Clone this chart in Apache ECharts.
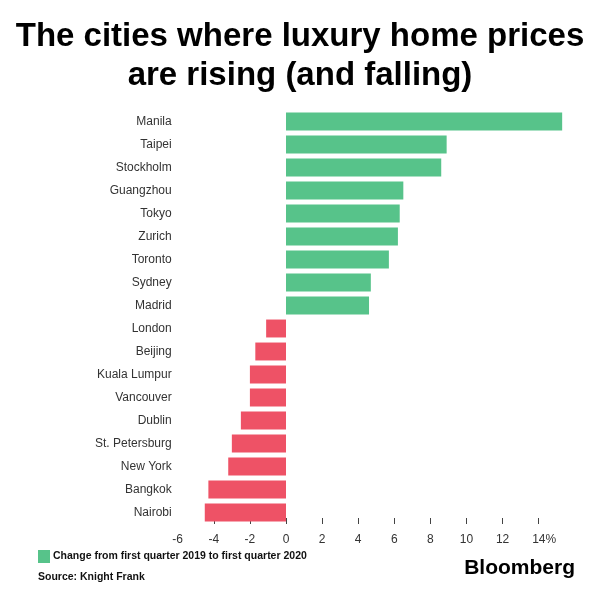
<!DOCTYPE html>
<html>
<head>
<meta charset="utf-8">
<script src="https://cdn.jsdelivr.net/npm/echarts@6/dist/echarts.min.js"></script>
<style>html,body{margin:0;padding:0;background:#fff}#c{width:600px;height:600px}</style>
</head>
<body>
<div id="c"></div>
<script>
const cities = ["Manila","Taipei","Stockholm","Guangzhou","Tokyo","Zurich","Toronto","Sydney","Madrid","London","Beijing","Kuala Lumpur","Vancouver","Dublin","St. Petersburg","New York","Bangkok","Nairobi"];
const changes = [15.3, 8.9, 8.6, 6.5, 6.3, 6.2, 5.7, 4.7, 4.6, -1.1, -1.7, -2.0, -2.0, -2.5, -3.0, -3.2, -4.3, -4.5];
const xLabelValues = [-6,-4,-2,0,2,4,6,8,10,12,14];
const xTickValues = [-4,-2,0,2,4,6,8,10,12,14];
const seriesName = "Change from first quarter 2019 to first quarter 2020";

const GREEN = "#57c38a", RED = "#ee5266";
const chart = echarts.init(document.getElementById('c'), null, {renderer:'canvas'});
chart.setOption({
  animation: false,
  backgroundColor: '#fff',
  title: [
    {text: "The cities where luxury home prices\nare rising (and falling)", left: 'center', top: 12,
     textStyle: {fontFamily: 'Liberation Sans', fontWeight: 'bold', fontSize: 33, lineHeight: 39, color: '#000'}},
    {text: "Source: Knight Frank", left: 33, top: 567,
     textStyle: {fontFamily: 'Liberation Sans', fontWeight: 'bold', fontSize: 10.5, color: '#111'}},
    {text: "Bloomberg", right: 20, top: 553,
     textStyle: {fontFamily: 'Liberation Sans', fontWeight: 'bold', fontSize: 21, color: '#000'}}
  ],
  legend: {
    data: [seriesName], left: 33, top: 545, icon: 'rect', itemWidth: 12, itemHeight: 13, itemGap: 4,
    textStyle: {fontFamily: 'Liberation Sans', fontWeight: 'bold', fontSize: 10.5, color: '#111', padding: [0,0,0,-2]}
  },
  grid: {left: 177.7, right: 25.2, top: 110, bottom: 76, containLabel: false},
  xAxis: {
    type: 'value', min: -6, max: 16, interval: 2,
    axisLine: {show: false},
    splitLine: {show: false},
    axisTick: {show: true, inside: true, length: 6, customValues: xTickValues, lineStyle: {color: '#444', width: 1}},
    axisLabel: {customValues: xLabelValues, margin: 10, fontFamily: 'Liberation Sans', fontSize: 12, color: '#333',
      formatter: v => v === 14 ? '{s|}14%' : String(v),
      rich: {s: {width: 11}}}
  },
  yAxis: {
    type: 'category', inverse: true, data: cities,
    axisLine: {show: false, onZero: false}, axisTick: {show: false},
    axisLabel: {margin: 6, fontFamily: 'Liberation Sans', fontSize: 12, color: '#333'}
  },
  series: [{
    name: seriesName, type: 'bar', barCategoryGap: '22%',
    itemStyle: {color: GREEN},
    data: changes.map(v => ({value: v, itemStyle: {color: v >= 0 ? GREEN : RED}}))
  }]
});
</script>
</body>
</html>
